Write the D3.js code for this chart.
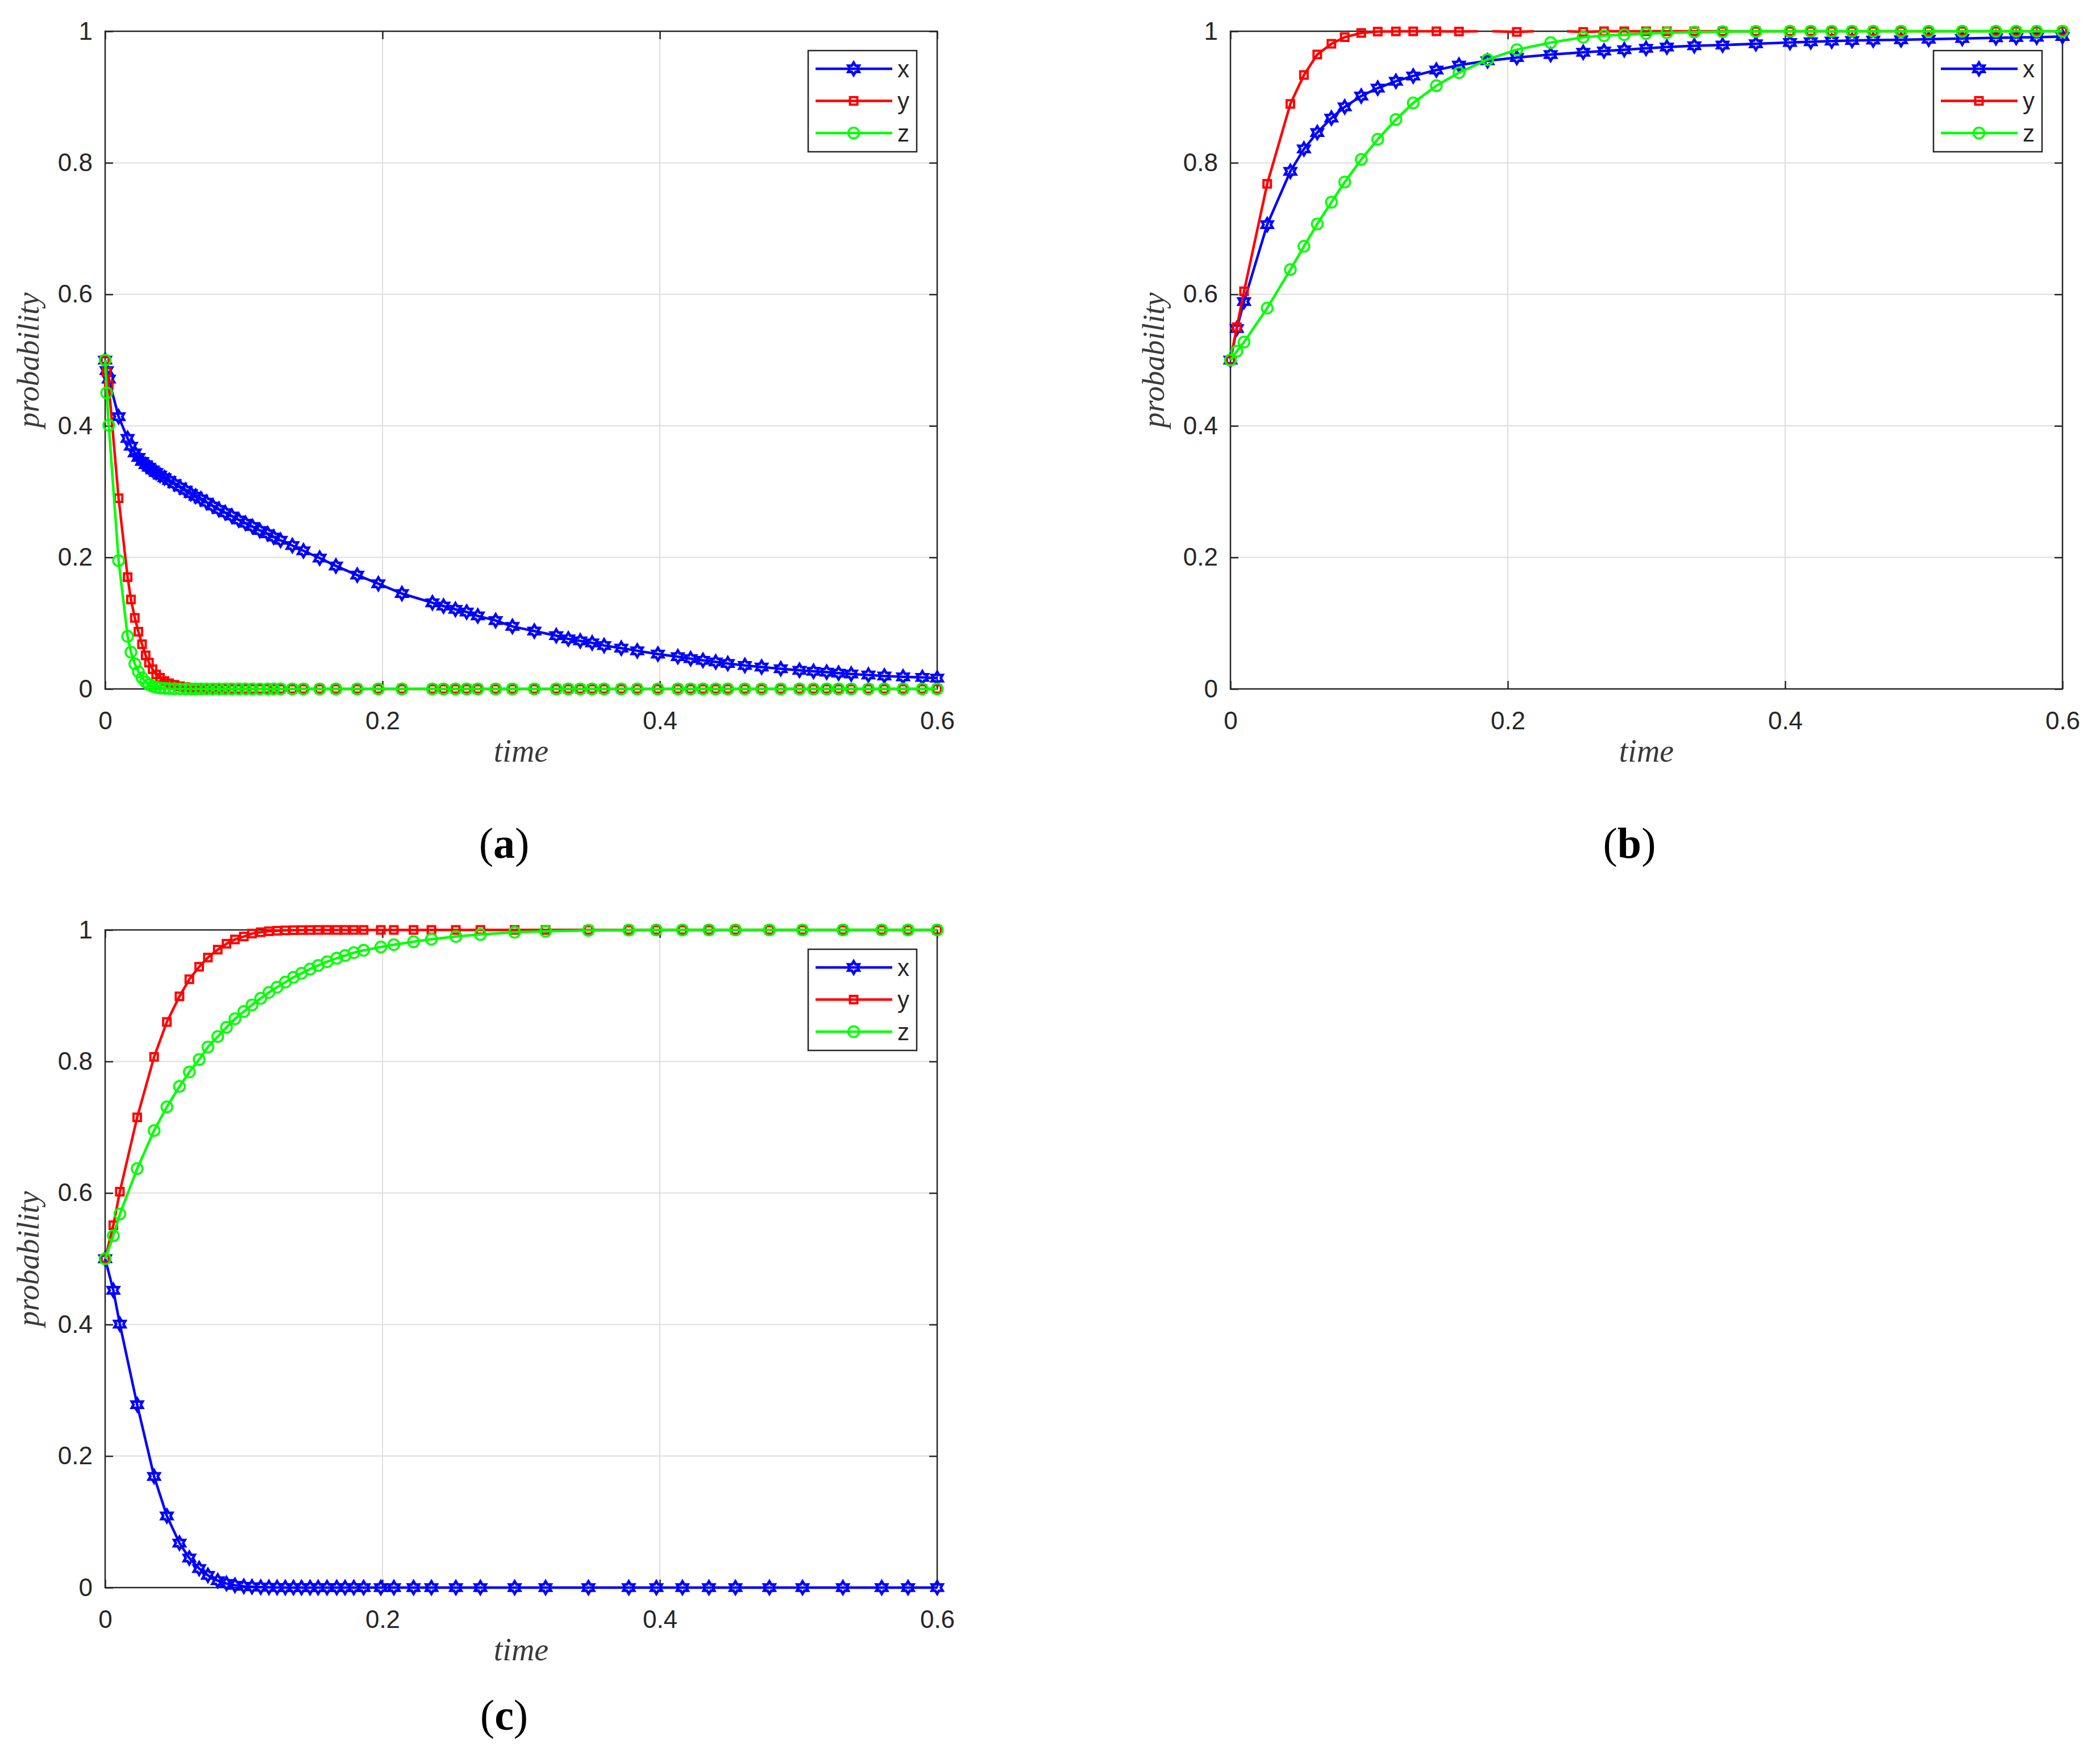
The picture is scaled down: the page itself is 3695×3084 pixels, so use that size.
<!DOCTYPE html>
<html>
<head>
<meta charset="utf-8">
<script src="https://cdn.jsdelivr.net/npm/d3@7"></script>
<style>
  body { margin: 0; background: #fff; }
</style>
</head>
<body>
<svg id="fig"></svg>
<script>
// ---- values ----
const seriesNames = ["x", "y", "z"];
const xTicks = [0, 0.2, 0.4, 0.6];
const yTicks = [0, 0.2, 0.4, 0.6, 0.8, 1];
const captions = ["a", "b", "c"];

// panel (a)
const tA = [0, 0.0011, 0.0026, 0.0097, 0.0162, 0.0186, 0.0214, 0.024, 0.0266, 0.0292,
  0.0316, 0.0342, 0.0368, 0.0396, 0.0428, 0.0462, 0.05, 0.054, 0.058, 0.0618,
  0.0652, 0.069, 0.0731, 0.0777, 0.082, 0.0866, 0.0913, 0.0963, 0.1012, 0.1062,
  0.1115, 0.1172, 0.1215, 0.1265, 0.135, 0.143, 0.1547, 0.1664, 0.1818, 0.197,
  0.214, 0.236, 0.244, 0.2526, 0.2607, 0.2687, 0.2816, 0.2937, 0.3095, 0.3253,
  0.334, 0.3426, 0.3512, 0.3598, 0.3722, 0.3837, 0.3986, 0.413, 0.4222, 0.4311,
  0.4403, 0.449, 0.4613, 0.4734, 0.4872, 0.5007, 0.5108, 0.5203, 0.5289, 0.538,
  0.5504, 0.5619, 0.5754, 0.5893, 0.6];
const xA = [0.5, 0.484, 0.471, 0.414, 0.381, 0.369, 0.359, 0.352, 0.346, 0.341,
  0.337, 0.333, 0.329, 0.325, 0.321, 0.317, 0.312, 0.307, 0.302, 0.297,
  0.293, 0.289, 0.284, 0.278, 0.273, 0.268, 0.263, 0.257, 0.252, 0.247,
  0.241, 0.236, 0.231, 0.226, 0.218, 0.210, 0.199, 0.187, 0.173, 0.160,
  0.145, 0.131, 0.126, 0.121, 0.117, 0.111, 0.104, 0.095, 0.088, 0.081,
  0.076, 0.073, 0.070, 0.066, 0.062, 0.058, 0.053, 0.049, 0.046, 0.0435,
  0.041, 0.0386, 0.0357, 0.0333, 0.0307, 0.0284, 0.0267, 0.0255, 0.024, 0.0226,
  0.0211, 0.0197, 0.0183, 0.0174, 0.0165];
const yA = [0.5, 0.482, 0.462, 0.29, 0.17, 0.136, 0.108, 0.087, 0.068, 0.051,
  0.040, 0.030, 0.022, 0.017, 0.012, 0.0086, 0.0062, 0.004, 0.0028, 0.0018,
  0.0012, 0.0008, 0.0005, 0.0003, 0.0002, 0.0001, 0, 0, 0, 0,
  0, 0, 0, 0, 0, 0, 0, 0, 0, 0,
  0, 0, 0, 0, 0, 0, 0, 0, 0, 0,
  0, 0, 0, 0, 0, 0, 0, 0, 0, 0,
  0, 0, 0, 0, 0, 0, 0, 0, 0, 0,
  0, 0, 0, 0, 0];
const zA = [0.5, 0.45, 0.401, 0.195, 0.08, 0.056, 0.038, 0.026, 0.017, 0.0105,
  0.0065, 0.004, 0.0024, 0.0014, 0.0008, 0.0004, 0.0002, 0.0001, 0, 0,
  0, 0, 0, 0, 0, 0, 0, 0, 0, 0,
  0, 0, 0, 0, 0, 0, 0, 0, 0, 0,
  0, 0, 0, 0, 0, 0, 0, 0, 0, 0,
  0, 0, 0, 0, 0, 0, 0, 0, 0, 0,
  0, 0, 0, 0, 0, 0, 0, 0, 0, 0,
  0, 0, 0, 0, 0];

// panel (b)
const tB = [0, 0.0046, 0.0098, 0.0265, 0.0432, 0.053, 0.0626, 0.0728, 0.0824, 0.0943,
  0.1062, 0.1193, 0.1318, 0.1485, 0.1648, 0.1854, 0.2065, 0.2309, 0.2544, 0.2694,
  0.284, 0.2997, 0.3147, 0.3345, 0.3549, 0.3789, 0.4035, 0.4185, 0.4336, 0.4483,
  0.4635, 0.4836, 0.5035, 0.5277, 0.552, 0.5666, 0.5814, 0.6];
const xB = [0.5, 0.548, 0.589, 0.706, 0.787, 0.821, 0.846, 0.868, 0.885, 0.9015,
  0.9135, 0.924, 0.932, 0.941, 0.9485, 0.955, 0.96, 0.9645, 0.968, 0.970,
  0.972, 0.974, 0.976, 0.978, 0.979, 0.981, 0.983, 0.984, 0.985, 0.986,
  0.9865, 0.987, 0.988, 0.989, 0.990, 0.9905, 0.991, 0.992];
const yB = [0.5, 0.55, 0.6045, 0.768, 0.8895, 0.9335, 0.9647, 0.981, 0.991, 0.9974,
  0.9995, 0.9998, 0.9999, 0.9999, 0.9996, 1.0002, 0.999, 1.001, 0.999, 1,
  1, 1, 1, 1, 1, 1, 1, 1, 1, 1,
  1, 1, 1, 1, 1, 1, 1, 1];
const zB = [0.5, 0.5135, 0.5274, 0.579, 0.6376, 0.673, 0.707, 0.740, 0.7707, 0.805,
  0.8357, 0.8658, 0.891, 0.9173, 0.937, 0.957, 0.972, 0.9827, 0.991, 0.9933,
  0.9948, 0.9968, 0.9977, 0.9988, 0.9994, 0.9997, 0.9999, 1, 1, 1,
  1, 1, 1, 1, 1, 1, 1, 1];

// panel (c)
const tC = [0, 0.0059, 0.0106, 0.0231, 0.0353, 0.0445, 0.0536, 0.0607, 0.0678, 0.0741,
  0.0812, 0.0875, 0.0936, 0.1, 0.1059, 0.1122, 0.1181, 0.124, 0.1299, 0.1358,
  0.1416, 0.1478, 0.1536, 0.16, 0.167, 0.173, 0.1793, 0.1864, 0.1988, 0.2082,
  0.2224, 0.2353, 0.2529, 0.2706, 0.2953, 0.3176, 0.3485, 0.3776, 0.3975, 0.4163,
  0.4354, 0.4545, 0.479, 0.5029, 0.532, 0.56, 0.579, 0.6];
const xC = [0.5, 0.452, 0.4006, 0.278, 0.169, 0.109, 0.0677, 0.045, 0.029, 0.0186,
  0.0104, 0.0062, 0.0035, 0.002, 0.0012, 0.0007, 0.0004, 0.0002, 0.0001, 0,
  0, 0, 0, 0, 0, 0, 0, 0, 0, 0,
  0, 0, 0, 0, 0, 0, 0, 0, 0, 0,
  0, 0, 0, 0, 0, 0, 0, 0];
const yC = [0.5, 0.551, 0.602, 0.715, 0.807, 0.86, 0.899, 0.925, 0.944, 0.958,
  0.970, 0.979, 0.9855, 0.990, 0.9945, 0.9965, 0.998, 0.9988, 0.9993, 0.9996,
  0.9998, 0.9999, 1, 1, 1, 1, 1, 1, 1, 1,
  1, 1, 1, 1, 1, 1, 1, 1, 1, 1,
  1, 1, 1, 1, 1, 1, 1, 1];
const zC = [0.5, 0.535, 0.568, 0.637, 0.695, 0.731, 0.762, 0.784, 0.803, 0.822,
  0.838, 0.852, 0.865, 0.876, 0.886, 0.896, 0.905, 0.913, 0.9206, 0.928,
  0.934, 0.9406, 0.946, 0.9517, 0.957, 0.961, 0.9655, 0.969, 0.974, 0.9776,
  0.982, 0.986, 0.990, 0.993, 0.9965, 0.998, 0.9993, 0.9997, 0.9999, 1,
  1, 1, 1, 1, 1, 1, 1, 1];

// ---- layout / style ----
const W = 1464, H = 1157;
const AXIS = "#262626";
const styles = [
  { color: "#0000ff", marker: "hex" },
  { color: "#ff0000", marker: "square" },
  { color: "#00ff00", marker: "circle" }
];
const panels = [
  { left: 185, top: 55, capDy: 297, t: tA, vals: [xA, yA, zA] },
  { left: 2165, top: 55, capDy: 297, t: tB, vals: [xB, yB, zB] },
  { left: 185, top: 1636, capDy: 250, t: tC, vals: [xC, yC, zC] }
];

const svg = d3.select("#fig").attr("width", 3695).attr("height", 3084);
svg.append("rect").attr("width", 3695).attr("height", 3084).attr("fill", "#fff");

function hexagram(R) {
  const r = R / Math.sqrt(3), pts = [];
  for (let k = 0; k < 12; k++) {
    const a = -Math.PI / 2 + k * Math.PI / 6, rr = k % 2 ? r : R;
    pts.push((rr * Math.cos(a)).toFixed(2) + "," + (rr * Math.sin(a)).toFixed(2));
  }
  return "M" + pts.join("L") + "Z";
}

// like matlab: parts of the line outside [0,1] are cut off at the limit
function clipRuns(ts, vs) {
  const runs = [];
  let cur = [];
  const inside = v => v >= 0 && v <= 1;
  for (let i = 0; i < ts.length; i++) {
    const inNow = inside(vs[i]);
    if (i > 0 && inNow !== inside(vs[i - 1])) {
      const a = vs[i - 1], b = vs[i];
      const lim = (a > 1 || b > 1) ? 1 : 0;
      const f = (lim - a) / (b - a);
      const c = [ts[i - 1] + f * (ts[i] - ts[i - 1]), lim];
      if (inNow) { cur = [c]; } else { cur.push(c); runs.push(cur); cur = []; }
    }
    if (inNow) cur.push([ts[i], vs[i]]);
  }
  if (cur.length) runs.push(cur);
  return runs;
}

function addMarkers(sel, kind, color) {
  if (kind === "hex") {
    sel.append("path").attr("d", hexagram(11))
      .attr("fill", "none").attr("stroke", color).attr("stroke-width", 4.5)
      .attr("stroke-linejoin", "miter");
  } else if (kind === "square") {
    sel.append("rect").attr("x", -6.5).attr("y", -6.5).attr("width", 13).attr("height", 13)
      .attr("fill", "none").attr("stroke", color).attr("stroke-width", 4);
  } else {
    sel.append("circle").attr("r", 9.5)
      .attr("fill", "none").attr("stroke", color).attr("stroke-width", 3.5);
  }
}

function drawPanel(p, idx) {
  const g = svg.append("g").attr("transform", `translate(${p.left},${p.top})`);
  const x = d3.scaleLinear().domain([0, 0.6]).range([0, W]);
  const y = d3.scaleLinear().domain([0, 1]).range([H, 0]);

  // grid
  g.append("g").selectAll("line.gx").data(xTicks).join("line")
    .attr("x1", d => x(d)).attr("x2", d => x(d)).attr("y1", 0).attr("y2", H)
    .attr("stroke", "#dedede").attr("stroke-width", 2);
  g.append("g").selectAll("line.gy").data(yTicks).join("line")
    .attr("x1", 0).attr("x2", W).attr("y1", d => y(d)).attr("y2", d => y(d))
    .attr("stroke", "#dedede").attr("stroke-width", 2);

  // box
  g.append("rect").attr("width", W).attr("height", H)
    .attr("fill", "none").attr("stroke", AXIS).attr("stroke-width", 2.5);

  const fmt = d => d === 0 ? "0" : d === 1 ? "1" : d3.format(".1f")(d);
  const axes = [
    g.append("g").attr("transform", `translate(0,${H})`)
      .call(d3.axisBottom(x).tickValues(xTicks).tickFormat(fmt).tickSizeInner(-14).tickSizeOuter(0).tickPadding(40)),
    g.append("g").call(d3.axisTop(x).tickValues(xTicks).tickFormat("").tickSizeInner(-14).tickSizeOuter(0)),
    g.append("g")
      .call(d3.axisLeft(y).tickValues(yTicks).tickFormat(fmt).tickSizeInner(-14).tickSizeOuter(0).tickPadding(22)),
    g.append("g").attr("transform", `translate(${W},0)`)
      .call(d3.axisRight(y).tickValues(yTicks).tickFormat("").tickSizeInner(-14).tickSizeOuter(0))
  ];
  axes.forEach(a => {
    a.select(".domain").remove();
    a.selectAll(".tick line").attr("stroke", AXIS).attr("stroke-width", 2.5);
    a.selectAll(".tick text").attr("fill", AXIS)
      .style("font-family", "'Liberation Sans', Arial, sans-serif").style("font-size", "44px");
  });

  // axis labels
  g.append("text").attr("x", W / 2).attr("y", H + 128).attr("text-anchor", "middle")
    .style("font-family", "'Liberation Serif', serif").style("font-style", "italic")
    .style("font-size", "56px").attr("fill", "#3a3a3a").text("time");
  g.append("text").attr("transform", `translate(-117,${H / 2}) rotate(-90)`)
    .attr("text-anchor", "middle")
    .style("font-family", "'Liberation Serif', serif").style("font-style", "italic")
    .style("font-size", "54px").attr("fill", "#3a3a3a").text("probability");

  // data
  const line = d3.line().x(d => x(d[0])).y(d => y(d[1]));
  p.vals.forEach((vs, k) => {
    const st = styles[k];
    const sg = g.append("g");
    clipRuns(p.t, vs).forEach(run => {
      sg.append("path").attr("d", line(run)).attr("fill", "none")
        .attr("stroke", st.color).attr("stroke-width", 4.5).attr("stroke-linejoin", "round");
    });
    const pts = p.t.map((t, i) => [t, vs[i]]).filter(d => d[1] >= 0 && d[1] <= 1);
    const m = sg.selectAll("g.m").data(pts).join("g")
      .attr("transform", d => `translate(${x(d[0])},${y(d[1])})`);
    addMarkers(m, st.marker, st.color);
  });

  // legend
  const lg = g.append("g").attr("transform", `translate(${W - 227},34)`);
  lg.append("rect").attr("width", 191).attr("height", 178)
    .attr("fill", "#fff").attr("stroke", AXIS).attr("stroke-width", 2.5);
  seriesNames.forEach((name, k) => {
    const st = styles[k];
    const row = lg.append("g").attr("transform", `translate(0,${32 + k * 56.5})`);
    row.append("line").attr("x1", 13).attr("x2", 148).attr("y1", 0).attr("y2", 0)
      .attr("stroke", st.color).attr("stroke-width", 4.5);
    addMarkers(row.append("g").attr("transform", "translate(80,0)"), st.marker, st.color);
    row.append("text").attr("x", 157).attr("y", 0).attr("dy", "0.35em")
      .style("font-family", "'Liberation Sans', Arial, sans-serif").style("font-size", "42px")
      .attr("fill", AXIS).text(name);
  });

  // caption
  const cap = g.append("text").attr("x", W / 2 - 30).attr("y", H + p.capDy)
    .attr("text-anchor", "middle")
    .style("font-family", "'Liberation Serif', serif").style("font-size", "76px").attr("fill", "#000");
  cap.append("tspan").text("(");
  cap.append("tspan").style("font-weight", "bold").text(captions[idx]);
  cap.append("tspan").text(")");
}

panels.forEach(drawPanel);
</script>
</body>
</html>
